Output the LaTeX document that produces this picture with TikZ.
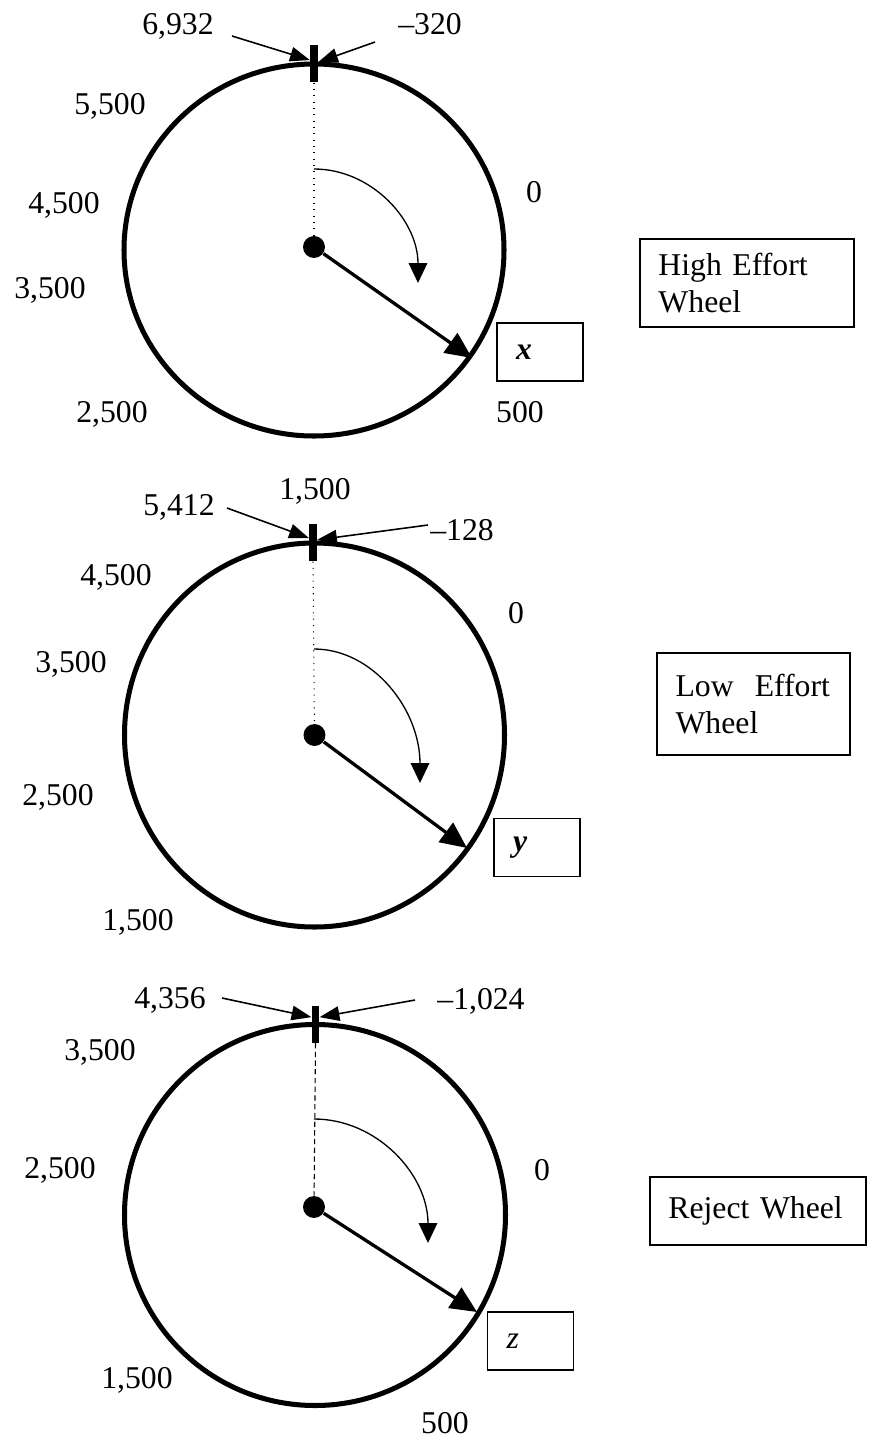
\documentclass[tikz,border=0pt]{standalone}
\usepackage{fontspec}
\setmainfont{Liberation Serif}
\usepackage{tikz}
\usetikzlibrary{arrows.meta}
\tikzset{
  wheelrim/.style={draw, line width=1.9pt},
  hub/.style={circle, fill=black, inner sep=0pt, minimum size=8.3pt},
  tickbar/.style={rectangle, fill=black, inner sep=0pt,
    minimum width=2.7pt, minimum height=14pt},
  spokeline/.style={line width=0.4pt, #1},
  spokeline/.default=dotted,
  pointer/.style={-{Triangle[length=10pt, width=9pt]}, line width=1.25pt},
  sweep/.style={-{Triangle[length=7.5pt, width=7pt]}, line width=0.5pt},
  callout/.style={-{Triangle[length=7.5pt, width=5.5pt]}, line width=0.6pt},
  numlabel/.style={inner sep=0pt, text height=8.1pt, text depth=0pt,
    font=\fontsize{12}{14}\selectfont},
  valbox/.style={rectangle, draw, line width=0.55pt,
    minimum width=32.5pt, minimum height=22pt, text width=18pt,
    inner xsep=7pt, inner ysep=0pt, align=left,
    font=\fontsize{12}{14}\selectfont},
  namebox/.style={rectangle, draw, line width=0.55pt,
    inner xsep=7pt, inner ysep=0pt, align=left, text width=#1,
    font=\fontsize{12}{14}\selectfont},
}
\begin{document}
\begin{tikzpicture}[x=0.3785pt, y=-0.3785pt]
\useasboundingbox (0,0) rectangle (868,1439);
% high effort wheel
\coordinate (c1) at (314,250);
\draw[wheelrim] (c1) ellipse [x radius=190, y radius=186];
\node[tickbar] (tick1) at (314,63.5) {};
\node[hub] (hub1) at (314,247) {};
\draw[spokeline] (tick1.south) -- (hub1);
\coordinate (s1) at (314,169);
\draw[sweep] (s1) arc [start angle=-90, end angle=0, x radius=104, y radius=114];
\coordinate (p1) at (472,358);
\draw[pointer] (hub1) -- (p1);
\node[numlabel] (hi-left) at (178,24) {6,932};
\node[numlabel] (hi-right) at (430,24) {–320};
\coordinate (hi-lt) at (232,36);
\coordinate (hi-rt) at (375,42);
\draw[callout] (hi-lt) -- ([yshift=1.3pt]tick1.west);
\draw[callout] (hi-rt) -- ([yshift=0.5pt]tick1.east);
\node[numlabel] (hi-5500) at (110,104) {5,500};
\node[numlabel] (hi-4500) at (64,203) {4,500};
\node[numlabel] (hi-3500) at (50,288) {3,500};
\node[numlabel] (hi-2500) at (112,412) {2,500};
\node[numlabel] (hi-0) at (534,192) {0};
\node[numlabel] (hi-500) at (520,412) {500};
\node[valbox] (val-x) at (540,352) {\textbf{\textit{x}}};
\node[namebox=67pt, minimum height=33.3pt] (name-hi) at (747,283) {High Effort\\Wheel};
% low effort wheel
\coordinate (c2) at (314.5,735);
\draw[wheelrim] (c2) ellipse [x radius=190, y radius=192];
\node[tickbar] (tick2) at (313,542.5) {};
\node[hub] (hub2) at (314.5,735) {};
\draw[spokeline] (tick2.south) -- (hub2);
\coordinate (s2) at (314,649);
\draw[sweep] (s2) arc [start angle=-90, end angle=0, x radius=106, y radius=134];
\coordinate (p2) at (467,848);
\draw[pointer] (hub2) -- (p2);
\node[numlabel] (lo-left) at (179,505) {5,412};
\node[numlabel] (lo-right) at (462,530) {–128};
\node[numlabel] (lo-top) at (315,489) {1,500};
\coordinate (lo-lt) at (227,508);
\coordinate (lo-rt) at (428,525);
\draw[callout] (lo-lt) -- ([yshift=1.7pt]tick2.west);
\draw[callout] (lo-rt) -- ([yshift=1pt]tick2.east);
\node[numlabel] (lo-4500) at (116,575) {4,500};
\node[numlabel] (lo-3500) at (71,662) {3,500};
\node[numlabel] (lo-2500) at (58,795) {2,500};
\node[numlabel] (lo-1500) at (138,920) {1,500};
\node[numlabel] (lo-0) at (516,613) {0};
\node[valbox] (val-y) at (537,847.5) {\textbf{\textit{y}}};
\node[namebox=59pt, minimum height=38.6pt] (name-lo) at (753.5,704) {Low\ \ Effort\\Wheel};
% reject wheel
\coordinate (c3) at (315,1215);
\draw[wheelrim] (c3) ellipse [x radius=190.5, y radius=190.5];
\node[tickbar] (tick3) at (315.5,1024) {};
\node[hub] (hub3) at (314,1207) {};
\draw[spokeline={dash pattern=on 2pt off 1.3pt}] (tick3.south) -- (hub3);
\coordinate (s3) at (314,1119);
\draw[sweep] (s3) arc [start angle=-90, end angle=0, x radius=114, y radius=124];
\coordinate (p3) at (477,1312);
\draw[pointer] (hub3) -- (p3);
\node[numlabel] (rj-left) at (170,998) {4,356};
\node[numlabel] (rj-right) at (481,999) {–1,024};
\coordinate (rj-lt) at (222,998);
\coordinate (rj-rt) at (415,1000);
\draw[callout] (rj-lt) -- ([yshift=2.6pt]tick3.west);
\draw[callout] (rj-rt) -- ([yshift=2.6pt]tick3.east);
\node[numlabel] (rj-3500) at (100,1050) {3,500};
\node[numlabel] (rj-2500) at (60,1168) {2,500};
\node[numlabel] (rj-1500) at (137,1378) {1,500};
\node[numlabel] (rj-0) at (542,1170) {0};
\node[numlabel] (rj-500) at (445,1423) {500};
\node[valbox] (val-z) at (530.5,1341) {\textit{z}};
\node[namebox=67.8pt, minimum height=25.7pt] (name-rj) at (758,1211) {Reject Wheel};
\end{tikzpicture}
\end{document}
